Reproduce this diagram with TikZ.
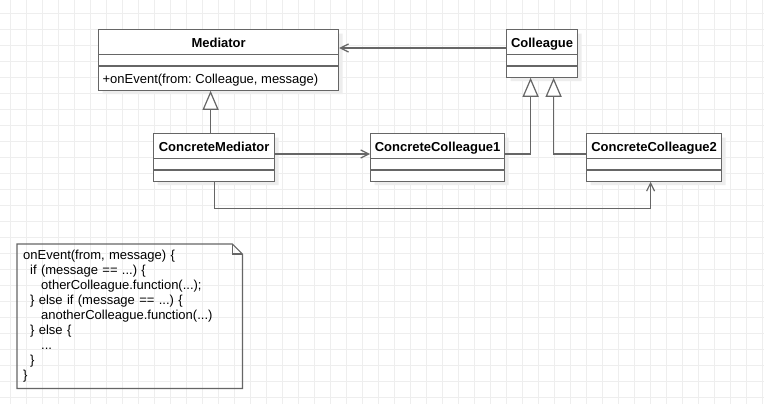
\documentclass[tikz,border=0pt]{standalone}
\usepackage{fontspec}
\setmainfont{Liberation Sans}
\usetikzlibrary{arrows.meta,shapes.multipart,shadows}
\definecolor{linegray}{HTML}{666666}
\definecolor{gridgray}{HTML}{EEEEEE}
\newcommand{\umlfont}{\fontsize{13}{15}\selectfont\frenchspacing}
\newcommand{\headrule}{\rule[-7pt]{0pt}{24pt}}
\newcommand{\emptyrule}{\rule{0pt}{10pt}}
\tikzset{
  umlclass/.style={draw=linegray, fill=white, line width=1.2pt, anchor=north west,
    rectangle split, rectangle split parts=3,
    rectangle split part align={center,left,left},
    inner xsep=4pt, inner ysep=0pt, font=\umlfont,
    drop shadow={shadow xshift=4pt, shadow yshift=-4pt, fill=black!7, opacity=1}},
  assoc/.style={draw=linegray, line width=1.2pt, -{Straight Barb[length=8pt,width=8pt]}},
  inherit/.style={draw=linegray, line width=1.2pt, -{Triangle[open,length=19pt,width=16pt,fill=white]}},
  gridline/.style={draw=gridgray, line width=0.8pt},
}
\begin{document}
\begin{tikzpicture}[x=1pt,y=-1pt]
\useasboundingbox (0,0) rectangle (764,404);
\fill[white] (0,0) rectangle (764,404);
% background grid
\foreach \gx in {10,26,...,762} \draw[gridline] (\gx,0) -- (\gx,404);
\foreach \gy in {13,29,...,397} \draw[gridline] (0,\gy) -- (764,\gy);

% classes
\node[umlclass, minimum width=240pt] (mediator) at (98,29)
  {\headrule\textbf{Mediator}\nodepart{two}\emptyrule
   \nodepart{three}\rule[-6pt]{0pt}{23pt}+onEvent(from: Colleague, message)};
\node[umlclass, minimum width=71pt] (colleague) at (506,29)
  {\headrule\textbf{Colleague}\nodepart{two}\emptyrule\nodepart{three}\emptyrule};
\node[umlclass, minimum width=121pt] (cmediator) at (153,133)
  {\headrule\textbf{ConcreteMediator}\nodepart{two}\emptyrule\nodepart{three}\emptyrule};
\node[umlclass, minimum width=134pt] (ccolleague1) at (370,133)
  {\headrule\textbf{ConcreteColleague1}\nodepart{two}\emptyrule\nodepart{three}\emptyrule};
\node[umlclass, minimum width=135pt] (ccolleague2) at (586,133)
  {\headrule\textbf{ConcreteColleague2}\nodepart{two}\emptyrule\nodepart{three}\emptyrule};

% connectors
\draw[assoc] ([yshift=-19pt]colleague.north west) -- ([yshift=-19pt]mediator.north east);
\draw[inherit] ([xshift=-3.5pt]cmediator.north) -- ([xshift=-8pt]mediator.south);
\draw[assoc] ([yshift=-21pt]cmediator.north east) -- ([yshift=-21pt]ccolleague1.north west);
\draw[inherit] ([yshift=-21pt]ccolleague1.north east) -| ([xshift=-11.5pt]colleague.south);
\draw[inherit] ([yshift=-21pt]ccolleague2.north west) -| ([xshift=11.5pt]colleague.south);
\draw[assoc] (cmediator.south) -- ++(0,27) -| ([xshift=-3.5pt]ccolleague2.south);

% note
\node[anchor=north west, minimum width=225pt, minimum height=144pt, text width=213pt,
  inner xsep=6pt, inner ysep=0pt, align=left, font=\umlfont] (note) at (17,244)
  {onEvent(from, message) \{\\
   \hspace*{7pt}if (message == ...) \{\\
   \hspace*{18pt}otherColleague.function(...);\\
   \hspace*{7pt}\} else if (message == ...) \{\\
   \hspace*{18pt}anotherColleague.function(...)\\
   \hspace*{7pt}\} else \{\\
   \hspace*{18pt}...\\
   \hspace*{7pt}\}\\
   \}};
\draw[draw=linegray, line width=1.2pt] (note.north west) -- ([xshift=-10pt]note.north east)
  -- ([yshift=-10pt]note.north east) -- (note.south east) -- (note.south west) -- cycle;
\draw[draw=linegray, line width=1.2pt] ([xshift=-10pt]note.north east)
  -- ([xshift=-10pt,yshift=-10pt]note.north east) -- ([yshift=-10pt]note.north east);
\end{tikzpicture}
\end{document}
